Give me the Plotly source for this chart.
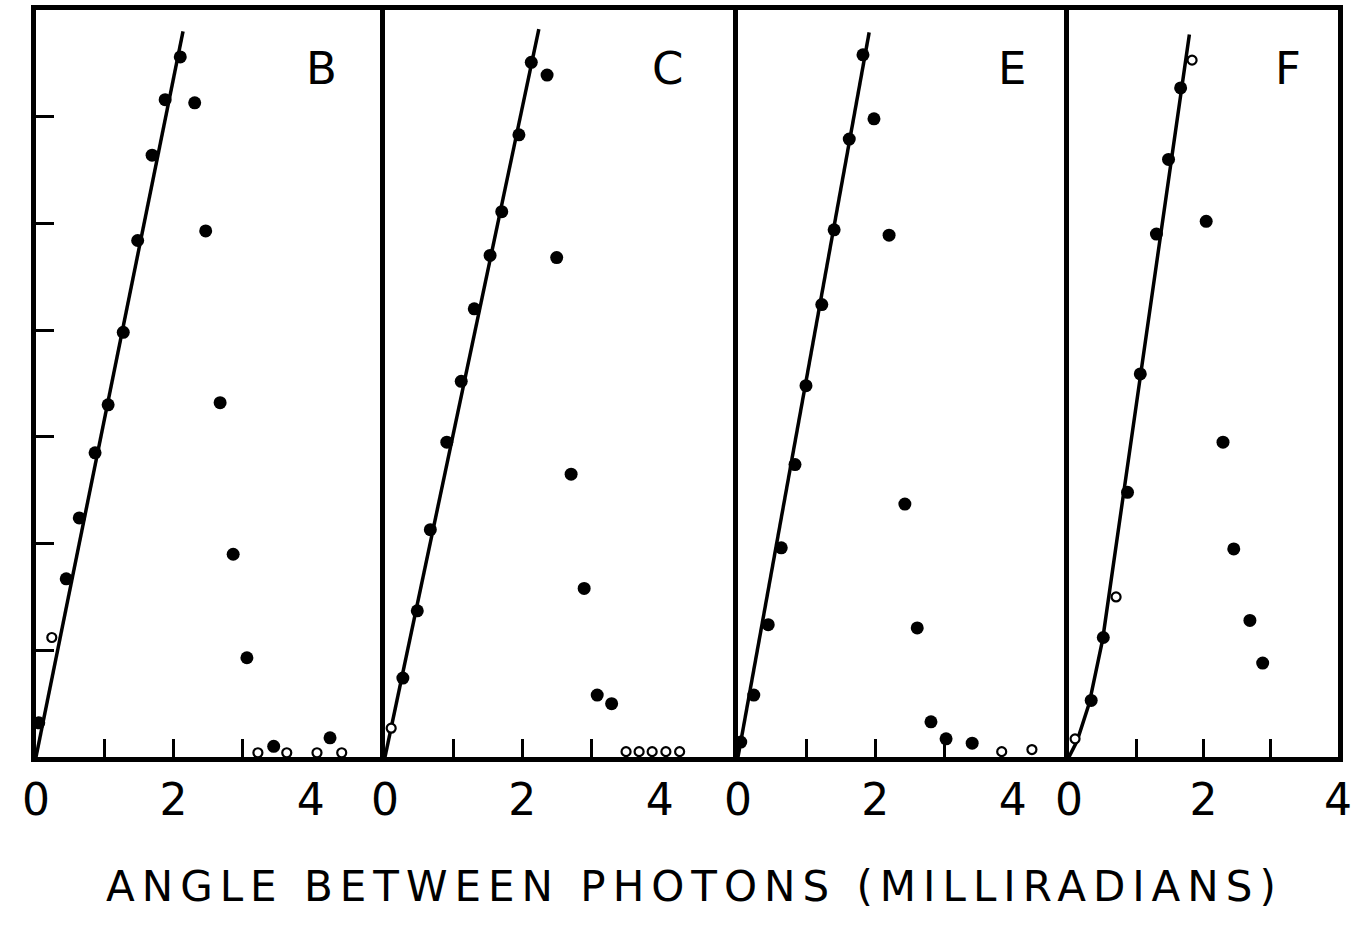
import plotly.graph_objects as go

# ---------------- data (angle in milliradians, counts in arbitrary units) -------------
panels = ["B", "C", "E", "F"]
x_tick_labels = ["0", "2", "4"]
x_tick_vals = [0, 2, 4]
x_minor_ticks = [1, 2, 3]
y_tick_vals = [1, 2, 3, 4, 5, 6]

# Panel B
B_line_x = [0.0, 2.14]
B_line_y = [0.0, 6.80]
B_on_x = [2.10, 1.88, 1.69, 1.48, 1.27, 1.05, 0.86, 0.63, 0.44, 0.04]
B_on_y = [6.56, 6.16, 5.64, 4.84, 3.98, 3.30, 2.85, 2.24, 1.67, 0.32]
B_on_open_x = [0.23]
B_on_open_y = [1.12]
B_off_x = [2.31, 2.47, 2.68, 2.87, 3.07, 3.46, 4.28]
B_off_y = [6.13, 4.93, 3.32, 1.90, 0.93, 0.10, 0.18]
B_zero_x = [3.23, 3.65, 4.09, 4.45]
B_zero_y = [0.04, 0.04, 0.04, 0.04]

# Panel C
C_line_x = [0.0, 2.24]
C_line_y = [0.0, 6.82]
C_on_x = [2.13, 1.95, 1.70, 1.53, 1.30, 1.11, 0.90, 0.66, 0.47, 0.26]
C_on_y = [6.51, 5.83, 5.11, 4.70, 4.20, 3.52, 2.95, 2.13, 1.37, 0.74]
C_on_open_x = [0.09]
C_on_open_y = [0.27]
C_off_x = [2.36, 2.50, 2.71, 2.90, 3.09, 3.30]
C_off_y = [6.39, 4.68, 2.65, 1.58, 0.58, 0.50]
C_zero_x = [3.51, 3.70, 3.89, 4.09, 4.29]
C_zero_y = [0.05, 0.05, 0.05, 0.05, 0.05]

# Panel E
E_line_x = [0.0, 1.91]
E_line_y = [0.0, 6.79]
E_on_x = [1.82, 1.62, 1.40, 1.22, 0.99, 0.83, 0.63, 0.44, 0.23, 0.04]
E_on_y = [6.58, 5.79, 4.94, 4.24, 3.48, 2.74, 1.96, 1.24, 0.58, 0.14]
E_on_open_x = []
E_on_open_y = []
E_off_x = [1.98, 2.20, 2.43, 2.61, 2.81, 3.03, 3.41]
E_off_y = [5.98, 4.89, 2.37, 1.21, 0.33, 0.17, 0.13]
E_zero_x = [3.84, 4.28]
E_zero_y = [0.05, 0.07]

# Panel F
F_line_x = [0.0, 0.12, 0.30, 0.50, 1.79]
F_line_y = [0.0, 0.15, 0.50, 1.10, 6.77]
F_on_x = [1.66, 1.48, 1.30, 1.06, 0.87, 0.51, 0.33]
F_on_y = [6.27, 5.60, 4.90, 3.59, 2.48, 1.12, 0.53]
F_on_open_x = [1.83, 0.70, 0.09]
F_on_open_y = [6.53, 1.50, 0.17]
F_off_x = [2.04, 2.29, 2.45, 2.69, 2.88]
F_off_y = [5.02, 2.95, 1.95, 1.28, 0.88]
F_zero_x = []
F_zero_y = []

x_title = "ANGLE BETWEEN PHOTONS (MILLIRADIANS)"

# ---------------- layout geometry -------------
W, H = 1367, 931
edges_px = [36, 385, 738, 1069, 1338]
x_ranges = [[0, 5.08], [0, 5.14], [0, 4.82], [0, 4.0]]
y_range = [0, 7]
top_px, bottom_px = 10, 757
label_pos = [(4.16, 6.45), (4.12, 6.45), (3.99, 6.45), (3.26, 6.45)]

data_sets = {
    "B": (B_line_x, B_line_y, B_on_x, B_on_y, B_on_open_x, B_on_open_y, B_off_x, B_off_y, B_zero_x, B_zero_y),
    "C": (C_line_x, C_line_y, C_on_x, C_on_y, C_on_open_x, C_on_open_y, C_off_x, C_off_y, C_zero_x, C_zero_y),
    "E": (E_line_x, E_line_y, E_on_x, E_on_y, E_on_open_x, E_on_open_y, E_off_x, E_off_y, E_zero_x, E_zero_y),
    "F": (F_line_x, F_line_y, F_on_x, F_on_y, F_on_open_x, F_on_open_y, F_off_x, F_off_y, F_zero_x, F_zero_y),
}

fig = go.Figure()
FONT = "DejaVu Sans"
ink = "black"

for i, p in enumerate(panels):
    n = "" if i == 0 else str(i + 1)
    xa, ya = "x" + n, "y" + n
    lx, ly, ox, oy, oox, ooy, fx, fy, zx, zy = data_sets[p]
    fig.add_trace(go.Scatter(x=lx, y=ly, mode="lines", xaxis=xa, yaxis=ya,
                             line=dict(color=ink, width=3.5), showlegend=False))
    fig.add_trace(go.Scatter(x=ox + fx, y=oy + fy, mode="markers", xaxis=xa, yaxis=ya,
                             marker=dict(color=ink, size=13, symbol="circle",
                                         line=dict(width=0)), showlegend=False))
    fig.add_trace(go.Scatter(x=oox + zx, y=ooy + zy, mode="markers", xaxis=xa, yaxis=ya,
                             marker=dict(color="white", size=9, symbol="circle",
                                         line=dict(color=ink, width=2.2)), showlegend=False))

    d0 = edges_px[i] / W
    d1 = edges_px[i + 1] / W
    xaxis = dict(domain=[d0, d1], range=x_ranges[i], anchor=ya, automargin=False,
                 showline=True, mirror=True, linecolor=ink, linewidth=5,
                 showgrid=False, zeroline=False,
                 tickmode="array", tickvals=x_tick_vals, ticktext=x_tick_labels,
                 ticks="", ticklabelstandoff=0,
                 tickfont=dict(family=FONT, size=44, color=ink),
                 minor=dict(tickmode="array", tickvals=x_minor_ticks, ticks="inside",
                            ticklen=18, tickwidth=2.5, tickcolor=ink, showgrid=False))
    yaxis = dict(domain=[1 - bottom_px / H, 1 - top_px / H], range=y_range, anchor=xa,
                 automargin=False,
                 showline=True, mirror=(i == len(panels) - 1), linecolor=ink, linewidth=5,
                 showgrid=False, zeroline=False, showticklabels=False)
    if i == 0:
        yaxis.update(tickmode="array", tickvals=y_tick_vals, ticks="inside",
                     ticklen=18, tickwidth=2.5, tickcolor=ink)
    else:
        yaxis.update(ticks="")
    fig.update_layout({"xaxis" + n: xaxis, "yaxis" + n: yaxis})

    fig.add_annotation(x=label_pos[i][0], y=label_pos[i][1], xref=xa, yref=ya,
                       text=p, showarrow=False, xanchor="center", yanchor="middle",
                       font=dict(family=FONT, size=45, color=ink))

fig.add_annotation(x=694 / W, y=1 - 886 / H, xref="paper", yref="paper",
                   text='<span style="letter-spacing:7px">' + x_title + "</span>",
                   showarrow=False, xanchor="center", yanchor="middle",
                   font=dict(family=FONT, size=42, color=ink))

fig.update_layout(template="none", width=W, height=H,
                  margin=dict(l=0, r=0, t=0, b=0, pad=0, autoexpand=False),
                  paper_bgcolor="white", plot_bgcolor="white", showlegend=False)

fig.write_html("out.html")
